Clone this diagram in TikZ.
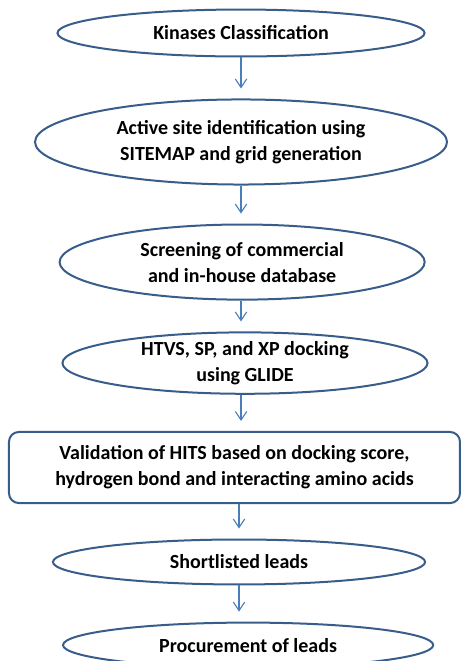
\documentclass[tikz,border=0pt]{standalone}
\usepackage{fontspec}
\setmainfont{Carlito}
\usetikzlibrary{shapes.geometric, arrows.meta}

\definecolor{oline}{RGB}{56,93,138}
\definecolor{aline}{RGB}{74,126,187}

\begin{document}
\begin{tikzpicture}[
    font=\fontsize{20}{26}\selectfont\bfseries,
    stage/.style={ellipse, draw=oline, line width=2pt, align=center, inner sep=0pt},
    rbox/.style={rectangle, rounded corners=3.5mm, draw=oline, line width=2pt, align=center, inner sep=0pt},
    flow/.style={-{Straight Barb[length=3mm, width=4mm]}, draw=aline, line width=1.1pt, shorten >=3.5mm}
]
\useasboundingbox (0, 0) rectangle (16.24, -23.23);

\node[stage, minimum width=12.90cm, minimum height=1.65cm] (classify) at (8.47, -1.16) {Kinases Classification};
\node[stage, minimum width=14.48cm, minimum height=2.99cm] (sitemap) at (8.47, -4.99) {Active site identification using\\SITEMAP and grid generation};
\node[stage, minimum width=12.83cm, minimum height=2.64cm] (screen) at (8.51, -9.21) {Screening of commercial\\and in-house database};
\node[stage, minimum width=12.83cm, minimum height=2.11cm] (glide) at (8.61, -12.76) {HTVS, SP, and XP docking\\using GLIDE};
\node[rbox, minimum width=15.85cm, minimum height=2.50cm] (hits) at (8.24, -16.43) {Validation of HITS based on docking score,\\hydrogen bond and interacting amino acids};
\node[stage, minimum width=13.08cm, minimum height=1.58cm] (leads) at (8.40, -19.75) {Shortlisted leads};
\node[stage, minimum width=13.01cm, minimum height=1.58cm] (buy) at (8.72, -22.67) {Procurement of leads};

\draw[flow] (classify.south) -- (classify.south |- sitemap.north);
\draw[flow] (sitemap.south) -- (sitemap.south |- screen.north);
\draw[flow] (screen.south -| sitemap.south) -- (sitemap.south |- glide.north);
\draw[flow] (glide.south -| sitemap.south) -- (sitemap.south |- hits.north);
\draw[flow] (hits.south -| leads.south) -- (leads.south |- leads.north);
\draw[flow] (leads.south) -- (leads.south |- buy.north);

\end{tikzpicture}
\end{document}
